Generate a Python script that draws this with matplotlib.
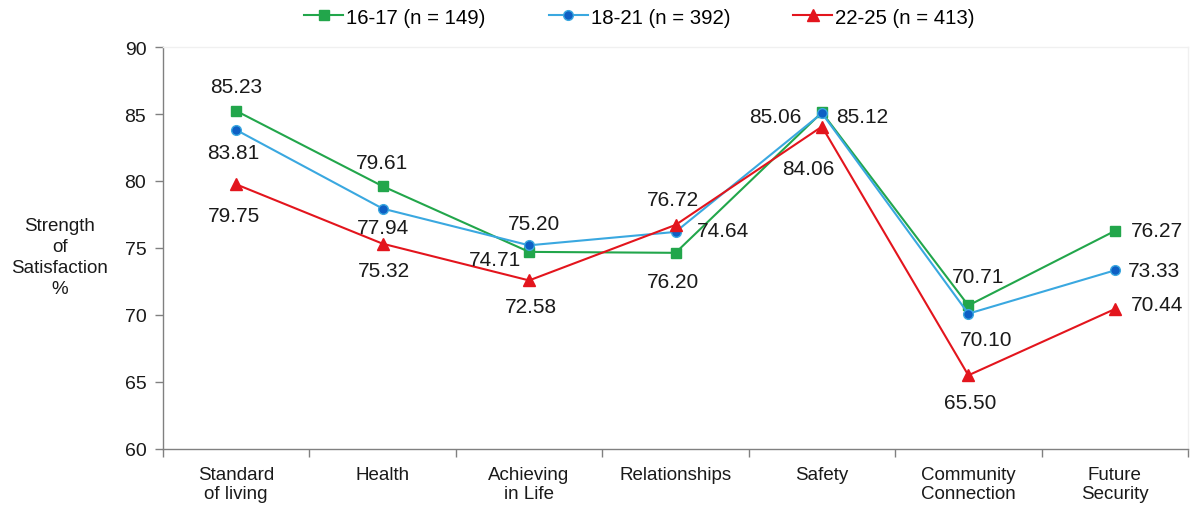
import matplotlib
matplotlib.use("Agg")
import matplotlib.pyplot as plt
from matplotlib.ticker import FixedLocator

plt.rcParams['font.family'] = ['Liberation Sans', 'DejaVu Sans']

categories = ["Standard\nof living", "Health", "Achieving\nin Life", "Relationships",
              "Safety", "Community\nConnection", "Future\nSecurity"]
series_names = ["16-17 (n = 149)", "18-21 (n = 392)", "22-25 (n = 413)"]
age_16_17 = [85.23, 79.61, 74.71, 74.64, 85.12, 70.71, 76.27]
age_18_21 = [83.81, 77.94, 75.20, 76.20, 85.06, 70.10, 73.33]
age_22_25 = [79.75, 75.32, 72.58, 76.72, 84.06, 65.50, 70.44]
y_ticks = [60, 65, 70, 75, 80, 85, 90]

# label offsets in pixels (dx, dy) relative to each point
offsets = [
    [(0, 24), (-1, 24), (-34, -8), (47, 22), (40, -4), (10, 29), (42, 0)],
    [(-3, -23), (0, -19), (5, 22), (-3, -50), (-47, -3), (18, -26), (39, 0)],
    [(-2, -31), (1, -27), (2, -26), (-3, 25), (-14, -42), (2, -27), (42, 5)],
]

styles = [
    dict(color="#22a64b", marker="s", markersize=7, mfc="#22a64b", mec="#22a64b"),
    dict(color="#3aa8e0", marker="o", markersize=7, mfc="#0e5fc4", mec="#3aa8e0"),
    dict(color="#e3151d", marker="^", markersize=8, mfc="#e3151d", mec="#e3151d"),
]

fig = plt.figure(figsize=(11.92, 5.06), dpi=100)
ax = fig.add_axes([163 / 1192, 1 - 450 / 506, (1188 - 163) / 1192, (450 - 48) / 506])

x = list(range(len(categories)))
all_series = [age_16_17, age_18_21, age_22_25]
for vals, name, st, offs in zip(all_series, series_names, styles, offsets):
    ax.plot(x, vals, lw=1.5, label=name, **st)
    for xi, v, (dx, dy) in zip(x, vals, offs):
        ax.annotate(f"{v:.2f}", (xi, v), xytext=(dx, dy), textcoords="offset pixels",
                    ha="center", va="center", fontsize=15, color="#1a1a1a")

ax.set_xlim(-0.5, len(categories) - 0.5)
ax.set_ylim(60, 90)
ax.set_yticks(y_ticks)
ax.tick_params(axis="y", labelsize=14, length=6, width=1, color="#808080",
               pad=6, labelcolor="#1a1a1a")

ax.set_xticks(x)
ax.set_xticklabels(categories, fontsize=13.5, color="#1a1a1a", linespacing=1.2,
                   va="top")
ax.tick_params(axis="x", which="major", length=0, pad=12)
ax.xaxis.set_minor_locator(FixedLocator([i - 0.5 for i in range(len(categories) + 1)]))
ax.tick_params(axis="x", which="minor", length=6, width=1, color="#808080")

for side in ("left", "bottom"):
    ax.spines[side].set_color("#808080")
    ax.spines[side].set_linewidth(1)
for side in ("top", "right"):
    ax.spines[side].set_color("#f0f0f0")
    ax.spines[side].set_linewidth(1)

fig.text(60 / 1192, 1 - 258 / 506, "Strength\nof\nSatisfaction\n%", ha="center",
         va="center", fontsize=13.5, color="#1a1a1a", linespacing=1.3)

fig.legend(loc="center", bbox_to_anchor=(0.5365, 1 - 18 / 506), ncol=3, frameon=False,
           fontsize=14.7, handlelength=1.9, handletextpad=0.15, columnspacing=3.1)

fig.savefig("out.png", dpi=100)
